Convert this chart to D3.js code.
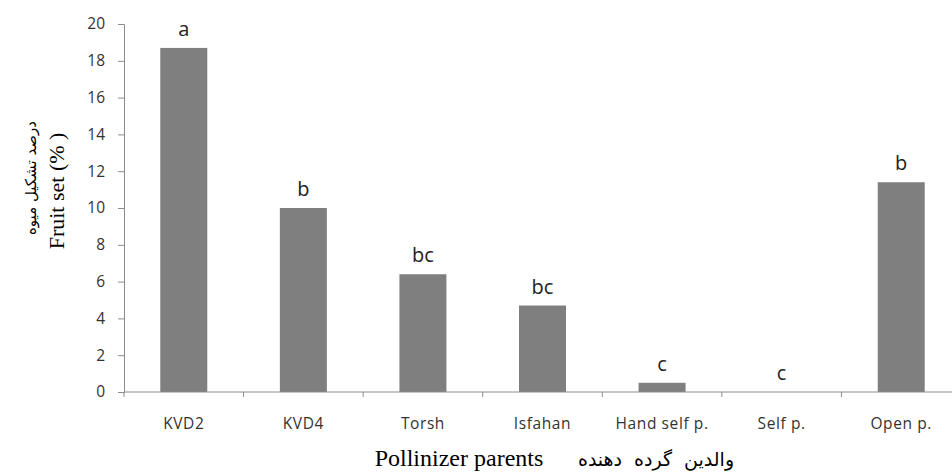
<!DOCTYPE html>
<html lang="en">
<head>
    <meta charset="UTF-8">
    <title>Fruit set by pollinizer</title>
    <script src="https://d3js.org/d3.v7.min.js"></script>
    <style>
        body { margin: 0; background: #fff; }
        .tick text { font-family: "Open Sans", sans-serif; fill: #333; }
        .serif { font-family: "Liberation Serif", "Times New Roman", serif; fill: #000; }
        .fa { font-family: "DejaVu Sans", sans-serif; fill: #000; }
    </style>
</head>
<body>
<svg width="952" height="473"></svg>
<script>
    // data
    const categories = ["KVD2", "KVD4", "Torsh", "Isfahan", "Hand self p.", "Self p.", "Open p."];
    const fruitSet = [18.7, 10.0, 6.4, 4.7, 0.5, 0, 11.4];
    const letters = ["a", "b", "bc", "bc", "c", "c", "b"];
    const yTicks = [0, 2, 4, 6, 8, 10, 12, 14, 16, 18, 20];

    let svg = d3.select("svg");

    let x = d3.scaleBand()
        .domain(categories)
        .range([124, 961])
        .paddingInner(0.607)
        .paddingOuter(0.3035);

    let y = d3.scaleLinear()
        .domain([0, 20])
        .range([392, 24]);

    // bars
    svg.append("g")
        .selectAll("rect")
        .data(categories)
        .enter()
        .append("rect")
        .attr("x", d => x(d))
        .attr("width", x.bandwidth())
        .attr("y", (d, i) => y(fruitSet[i]))
        .attr("height", (d, i) => y(0) - y(fruitSet[i]))
        .attr("fill", "#7f7f7f");

    // y axis
    let yAxis = svg.append("g")
        .attr("transform", "translate(124,0)")
        .call(d3.axisLeft(y).tickValues(yTicks).tickSize(6).tickPadding(13));
    yAxis.selectAll("text").attr("font-size", "15.5px");
    yAxis.selectAll("line, path").attr("stroke", "#8c8c8c");

    // x axis, ticks between the categories
    let xAxis = svg.append("g")
        .attr("transform", "translate(0,392)")
        .call(d3.axisBottom(x).tickSize(0).tickPadding(26));
    xAxis.select("path").attr("stroke", "#8c8c8c").attr("d", "M124,0H961");
    xAxis.selectAll("text").attr("font-size", "15.5px").attr("letter-spacing", "0.6px");
    svg.append("g")
        .selectAll("line")
        .data(d3.range(categories.length + 1))
        .enter()
        .append("line")
        .attr("x1", i => x.range()[0] + i * x.step())
        .attr("x2", i => x.range()[0] + i * x.step())
        .attr("y1", y(0))
        .attr("y2", y(0) + 5)
        .attr("stroke", "#8c8c8c");

    // letters above the bars
    svg.append("g")
        .selectAll("text")
        .data(categories)
        .enter()
        .append("text")
        .attr("x", d => x(d) + x.bandwidth() / 2)
        .attr("y", (d, i) => y(fruitSet[i]) - 12)
        .attr("text-anchor", "middle")
        .attr("font-family", "Open Sans, sans-serif")
        .attr("font-size", "20px")
        .attr("fill", "#222")
        .text((d, i) => letters[i]);

    // axis titles
    svg.append("text")
        .attr("class", "serif")
        .attr("x", 459)
        .attr("y", 466)
        .attr("text-anchor", "middle")
        .attr("font-size", "24px")
        .text("Pollinizer parents");
    svg.append("text")
        .attr("class", "fa")
        .attr("x", 656)
        .attr("y", 466)
        .attr("text-anchor", "middle")
        .attr("font-size", "19px")
        .attr("word-spacing", "6px")
        .text("والدین گرده دهنده");

    svg.append("text")
        .attr("class", "serif")
        .attr("transform", "translate(64,191) rotate(-90)")
        .attr("text-anchor", "middle")
        .attr("font-size", "22px")
        .text("Fruit set (% )");
    svg.append("text")
        .attr("class", "fa")
        .attr("transform", "translate(36,178) rotate(-90)")
        .attr("text-anchor", "middle")
        .attr("font-size", "15px")
        .text("درصد تشکیل میوه");
</script>
</body>
</html>
